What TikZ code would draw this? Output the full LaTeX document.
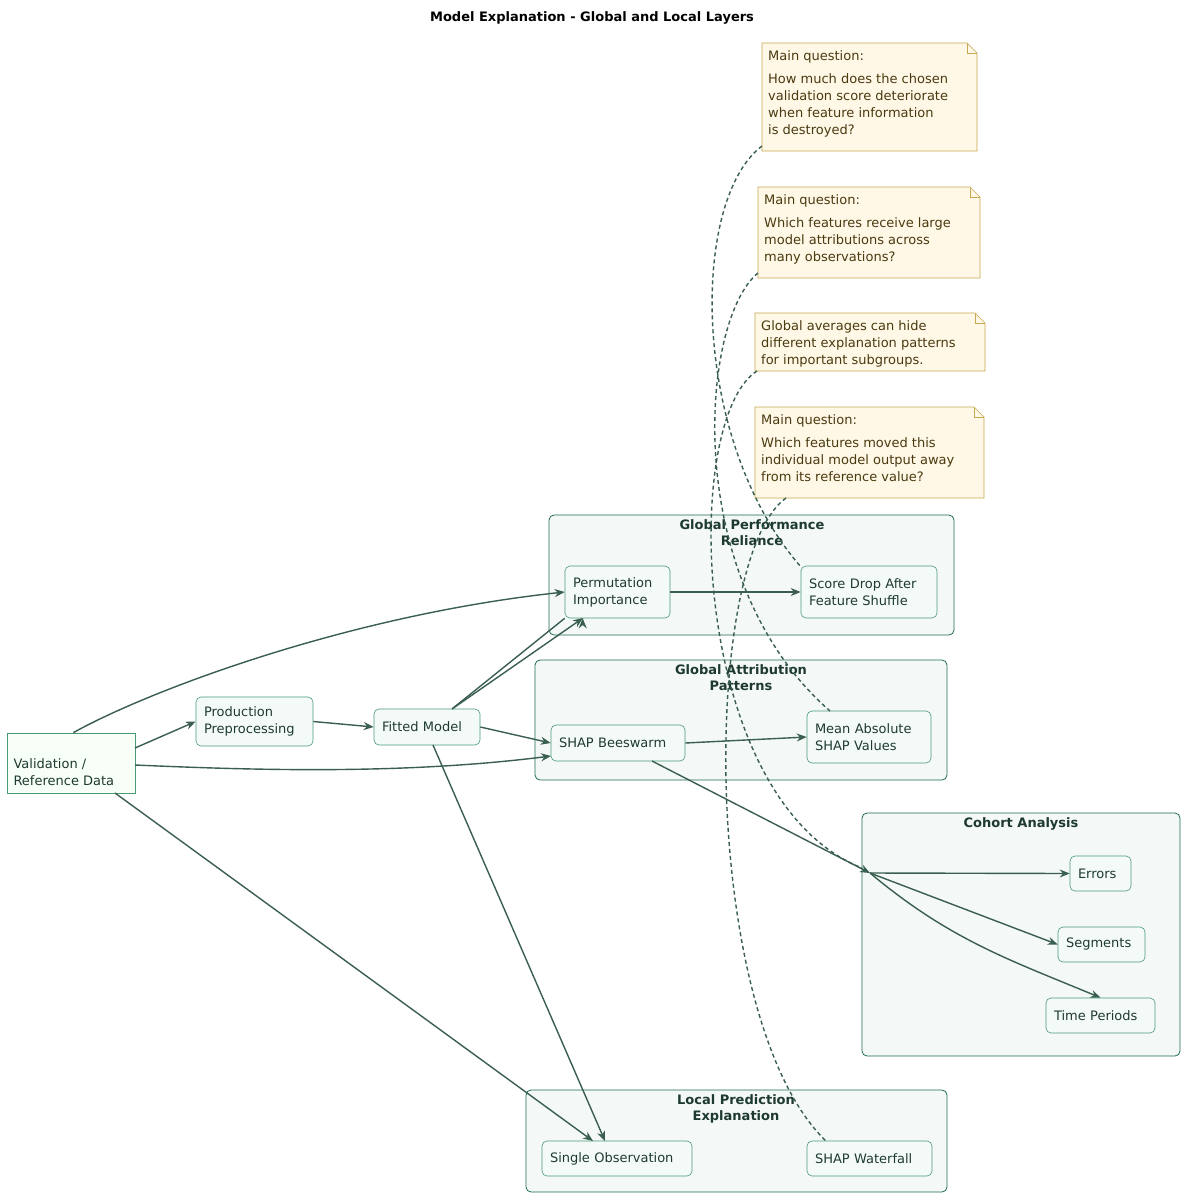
\documentclass[tikz,border=0pt]{standalone}
\usepackage{fontspec}
\setmainfont{DejaVu Sans}
\usetikzlibrary{shapes.geometric,shapes.misc,arrows.meta}
\definecolor{nodefill}{HTML}{F4FAF7}
\definecolor{nodeline}{HTML}{4A9A78}
\definecolor{clfill}{HTML}{F4F8F6}
\definecolor{clline}{HTML}{1E6B50}
\definecolor{edge}{HTML}{3A5F50}
\definecolor{txt}{HTML}{1E3A30}
\definecolor{notefill}{HTML}{FFF8E6}
\definecolor{noteline}{HTML}{C8A850}
\definecolor{notetxt}{HTML}{4A3A10}
\begin{document}
\begin{tikzpicture}[x=1pt,y=-1pt,
  every node/.style={font=\fontsize{13}{17}\selectfont, text=txt},
  box/.style={draw=nodeline, fill=nodefill, rounded corners=5pt, align=left, inner sep=0pt, line width=0.6pt},
  cluster/.style={draw=clline, fill=clfill, rounded corners=5pt, line width=0.8pt},
  cltitle/.style={font=\bfseries\fontsize{13}{16}\selectfont, align=center, anchor=north},
  arr/.style={draw=edge, line width=1.4pt, -{Stealth[length=10pt,width=8pt]}},
  dsh/.style={draw=edge, line width=1.4pt, dashed, dash pattern=on 4pt off 3pt},
  notetext/.style={text=notetxt, align=left, anchor=north west, inner sep=0pt}]
\useasboundingbox (0,0) rectangle (1185,1197);
\fill[white] (0,0) rectangle (1185,1197);
\node[font=\bfseries\fontsize{13}{16}\selectfont, text=black] (title) at (592,18) {Model Explanation - Global and Local Layers};
% clusters
\draw[cluster] (549,515) rectangle (954,635);
\node[cltitle] (t1) at (752,516) {Global Performance\\Reliance};
\draw[cluster] (535,660) rectangle (947,780);
\node[cltitle] (t2) at (741,661) {Global Attribution\\Patterns};
\draw[cluster] (862,813) rectangle (1180,1056);
\node[cltitle] (t3) at (1021,814) {Cohort Analysis};
\draw[cluster] (526,1090) rectangle (947,1192);
\node[cltitle] (t4) at (736,1091) {Local Prediction\\Explanation};
% db
\node[cylinder, shape border rotate=90, aspect=0.18, draw=nodeline, fill=nodefill!70!green!10, minimum width=128pt, minimum height=60pt, inner sep=0pt, line width=0.6pt] (db) at (71,763) {};
\node[align=left, anchor=west] at (10,772) {Validation /\\Reference Data};
% nodes
\node[box, minimum width=117pt, minimum height=49pt, text width=101pt] (prep) at (254.5,721.5) {Production\\Preprocessing};
\node[box, minimum width=106pt, minimum height=36pt, text width=90pt] (fit) at (427,727) {Fitted Model};
\node[box, minimum width=105pt, minimum height=52pt, text width=89pt] (perm) at (617.5,592) {Permutation\\Importance};
\node[box, minimum width=136pt, minimum height=52pt, text width=120pt] (score) at (869,592) {Score Drop After\\Feature Shuffle};
\node[box, minimum width=134pt, minimum height=36pt, text width=118pt] (bee) at (618,743) {SHAP Beeswarm};
\node[box, minimum width=124pt, minimum height=52pt, text width=108pt] (mean) at (869,737) {Mean Absolute\\SHAP Values};
\coordinate (pt) at (870,873);
\node[box, minimum width=61pt, minimum height=35pt, text width=45pt] (err) at (1100.5,873.5) {Errors};
\node[box, minimum width=87pt, minimum height=35pt, text width=71pt] (seg) at (1101.5,944.5) {Segments};
\node[box, minimum width=109pt, minimum height=35pt, text width=93pt] (tp) at (1100.5,1015.5) {Time Periods};
\node[box, minimum width=150pt, minimum height=35pt, text width=134pt] (single) at (617,1158.5) {Single Observation};
\node[box, minimum width=125pt, minimum height=35pt, text width=109pt] (wf) at (869.5,1158.5) {SHAP Waterfall};
% notes
\newcommand{\mynote}[5]{%
  \draw[draw=noteline, fill=notefill, line width=0.6pt] (#1,#2) -- (#3-10,#2) -- (#3,#2+10) -- (#3,#4) -- (#1,#4) -- cycle;
  \draw[draw=noteline, line width=0.6pt] (#3-10,#2) -- (#3-10,#2+10) -- (#3,#2+10);
  \node[notetext] at (#1+6,#2+7) {#5};}
\mynote{762}{43}{977}{151}{Main question:\\[6pt]How much does the chosen\\validation score deteriorate\\when feature information\\is destroyed?}
\mynote{758}{187}{980}{278}{Main question:\\[6pt]Which features receive large\\model attributions across\\many observations?}
\mynote{755}{313}{985}{371}{Global averages can hide\\different explanation patterns\\for important subgroups.}
\mynote{755}{407}{984}{498}{Main question:\\[6pt]Which features moved this\\individual model output away\\from its reference value?}
\coordinate (n1) at (762,146);
\coordinate (n2) at (758,273);
\coordinate (n3) at (757,371);
\coordinate (n4) at (786,498);
% edges
\draw[arr] (db.north east) ++(-28,0) .. controls (150,690) and (350,615) .. (perm.west);
\draw[arr] (135,748) -- (prep.west);
\draw[arr] (prep.east) -- (fit.west);
\draw[arr] (fit.north east) ++(-28,0) -- (perm.south west) ++(18,0);
\draw[arr] (452,709) -- (583,618);
\draw[arr] (fit.east) -- (bee.west);
\draw[arr] (135,765) .. controls (250,770) and (400,775) .. (551,756);
\draw[arr] (115,793) -- (593,1141);
\draw[arr] (433,745) -- (605,1141);
\draw[arr] (perm.east) -- (score.west);
\draw[arr] (bee.east) -- (mean.west);
\draw[arr] (652,761) -- (pt);
\draw[arr] (pt) -- (err.west);
\draw[arr] (pt) -- (seg.west);
\draw[arr] (pt) .. controls (950,940) and (1010,960) .. (tp.north);
% dashed
\draw[dsh] (n1) .. controls (690,200) and (690,440) .. (801,567);
\draw[dsh] (n2) .. controls (700,320) and (680,580) .. (830,711);
\draw[dsh] (n3) .. controls (680,420) and (690,800) .. (862,868);
\draw[dsh] (n4) .. controls (700,560) and (700,1020) .. (826,1141);
\end{tikzpicture}
\end{document}
